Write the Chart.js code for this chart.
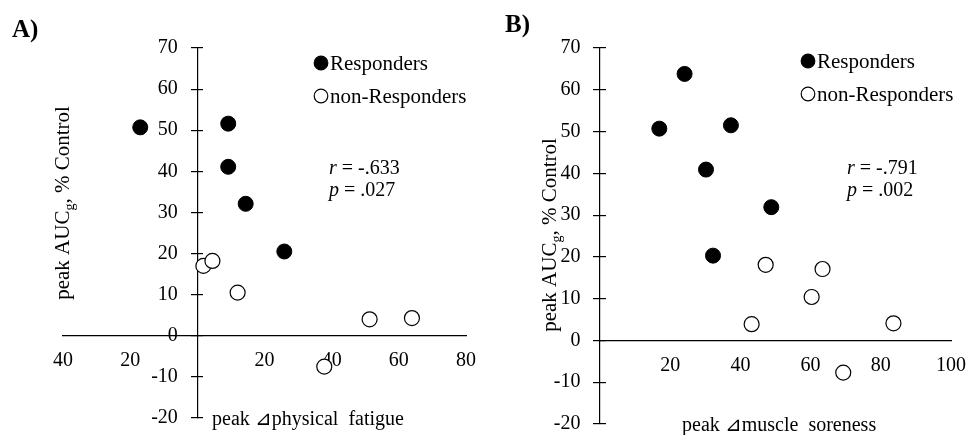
<!DOCTYPE html>
<html>
<head>
<meta charset="utf-8">
<script src="https://cdn.jsdelivr.net/npm/chart.js@4/dist/chart.umd.min.js"></script>
<style>
  body { margin: 0; background: #fff; }
  .panel { position: absolute; top: 0; width: 489px; height: 435px; }
  #panel-a { left: 0; }
  #panel-b { left: 490px; }
</style>
</head>
<body>
<div class="panel" id="panel-a"><canvas id="chart-a" width="489" height="435"></canvas></div>
<div class="panel" id="panel-b"><canvas id="chart-b" width="489" height="435"></canvas></div>
<script>
// A) peak change in physical fatigue vs peak AUCg (% control)
const fatigueResponders = [-17.0, 9.2, 9.2, 14.4, 25.9];
const fatigueRespondersAuc = [50.7, 51.6, 41.1, 32.1, 20.5];
const fatigueNonResponders = [1.8, 4.5, 12.0, 37.8, 51.3, 63.9];
const fatigueNonRespondersAuc = [17.0, 18.2, 10.5, -7.5, 4.0, 4.3];

// B) peak change in muscle soreness vs peak AUCg (% control)
const sorenessResponders = [16.9, 24.1, 37.3, 30.2, 48.8, 32.2];
const sorenessRespondersAuc = [50.7, 63.8, 51.5, 40.9, 31.9, 20.3];
const sorenessNonResponders = [43.2, 47.2, 60.3, 63.4, 69.3, 83.6];
const sorenessNonRespondersAuc = [3.9, 18.1, 10.4, 17.1, -7.7, 4.1];

const groupLabels = ["Responders", "non-Responders"];
const fatigueStats = [["r", " = -.633"], ["p", " = .027"]];
const sorenessStats = [["r", " = -.791"], ["p", " = .002"]];

const serif = "'Liberation Serif', 'Times New Roman', serif";
Chart.defaults.font.family = serif;
Chart.defaults.font.size = 20;
Chart.defaults.color = "#000";

const toPoints = (xs, ys) => xs.map((x, i) => ({ x: x, y: ys[i] }));

// panel letter, y tick labels, legend, r/p text and axis titles
const overlay = {
  id: "overlay",
  afterDraw(chart, args, opts) {
    const ctx = chart.ctx;
    const yScale = chart.scales.y;
    const axisX = chart.scales.x.getPixelForValue(0);
    ctx.save();
    ctx.fillStyle = "#000";

    // y tick labels sit left of the tick marks (object-positioned axes put them on the line)
    ctx.font = "20px " + serif;
    ctx.textAlign = "right";
    ctx.textBaseline = "middle";
    yScale.ticks.forEach(t => {
      ctx.fillText(String(t.value), axisX - 19.5, yScale.getPixelForValue(t.value));
    });

    ctx.textAlign = "left";
    ctx.textBaseline = "alphabetic";
    ctx.font = "bold 25px " + serif;
    ctx.fillText(opts.panel, opts.panelPos[0], opts.panelPos[1]);

    // legend
    ctx.font = "21px " + serif;
    chart.data.datasets.forEach((ds, i) => {
      const cx = opts.legendPos[0];
      const cy = opts.legendPos[1] + i * 33;
      ctx.beginPath();
      ctx.arc(cx, cy, 6.8, 0, Math.PI * 2);
      ctx.fillStyle = ds.backgroundColor;
      ctx.fill();
      ctx.lineWidth = 1.2;
      ctx.strokeStyle = "#000";
      ctx.stroke();
      ctx.fillStyle = "#000";
      ctx.fillText(ds.label, cx + 9, cy + 7);
    });

    // correlation text
    opts.stats.forEach((line, i) => {
      const x = opts.statsPos[0];
      const y = opts.statsPos[1] + i * 22;
      ctx.font = "italic 20px " + serif;
      ctx.fillText(line[0], x, y);
      const w = ctx.measureText(line[0]).width;
      ctx.font = "20px " + serif;
      ctx.fillText(line[1], x + w, y);
    });

    // x title
    ctx.font = "20px " + serif;
    ctx.fillText(opts.xTitle, opts.xTitlePos[0], opts.xTitlePos[1]);

    // y title with subscript g, rotated
    ctx.translate(opts.yTitlePos[0], opts.yTitlePos[1]);
    ctx.rotate(-Math.PI / 2);
    const parts = [["peak AUC", 21, 0], ["g", 14, 5], [", % Control", 21, 0]];
    let total = 0;
    parts.forEach(p => {
      ctx.font = p[1] + "px " + serif;
      total += ctx.measureText(p[0]).width;
    });
    let x = -total / 2;
    parts.forEach(p => {
      ctx.font = p[1] + "px " + serif;
      ctx.fillText(p[0], x, p[2]);
      x += ctx.measureText(p[0]).width;
    });
    ctx.restore();
  }
};

function makeChart(canvasId, resp, respAuc, non, nonAuc, xMin, xMax, padding, extra) {
  return new Chart(document.getElementById(canvasId), {
    type: "scatter",
    plugins: [overlay],
    data: {
      datasets: [
        {
          label: groupLabels[0],
          data: toPoints(resp, respAuc),
          backgroundColor: "#000",
          borderColor: "#000",
          borderWidth: 1,
          pointRadius: 7.5,
          yAxisID: "y",
        },
        {
          label: groupLabels[1],
          data: toPoints(non, nonAuc),
          backgroundColor: "#fff",
          borderColor: "#000",
          borderWidth: 1.2,
          pointRadius: 7.5,
          yAxisID: "y",
        },
      ],
    },
    options: {
      responsive: false,
      animation: false,
      layout: { padding: padding },
      plugins: {
        legend: { display: false },
        tooltip: { enabled: false },
        overlay: extra,
      },
      scales: {
        x: {
          type: "linear",
          min: xMin,
          max: xMax,
          position: { y: 0 },
          border: { color: "#000", width: 1.2 },
          grid: { display: false, drawTicks: false },
          ticks: {
            stepSize: 20,
            autoSkip: false,
            maxRotation: 0,
            padding: 13,
            callback: (v) => (v === 0 ? "" : String(Math.abs(v))),
          },
        },
        y: {
          type: "linear",
          min: -20,
          max: 70,
          position: { x: 0 },
          border: { color: "#000", width: 1.2 },
          grid: { drawOnChartArea: false, tickLength: 6, color: "#000", lineWidth: 1.2 },
          ticks: { stepSize: 10, display: false },
        },
        // second copy of the y axis, only for the inner half of the tick marks
        yCross: {
          axis: "y",
          type: "linear",
          min: -20,
          max: 70,
          position: { x: 0 },
          border: { display: false },
          grid: { drawOnChartArea: false, tickLength: -6, color: "#000", lineWidth: 1.2 },
          ticks: { stepSize: 10, display: false },
        },
      },
    },
  });
}

makeChart("chart-a", fatigueResponders, fatigueRespondersAuc, fatigueNonResponders, fatigueNonRespondersAuc,
  -40, 80, { left: 63, right: 23, top: 48, bottom: 17 }, {
    panel: "A)", panelPos: [12, 37],
    legendPos: [321, 63],
    stats: fatigueStats, statsPos: [329, 174],
    xTitle: "peak \u22BFphysical  fatigue", xTitlePos: [212, 425],
    yTitlePos: [69, 203],
  });

makeChart("chart-b", sorenessResponders, sorenessRespondersAuc, sorenessNonResponders, sorenessNonRespondersAuc,
  0, 100, { left: 110, right: 20, top: 48, bottom: 11 }, {
    panel: "B)", panelPos: [15, 32],
    legendPos: [318, 61],
    stats: sorenessStats, statsPos: [357, 174],
    xTitle: "peak \u22BFmuscle  soreness", xTitlePos: [192, 431],
    yTitlePos: [66, 235],
  });
</script>
</body>
</html>
